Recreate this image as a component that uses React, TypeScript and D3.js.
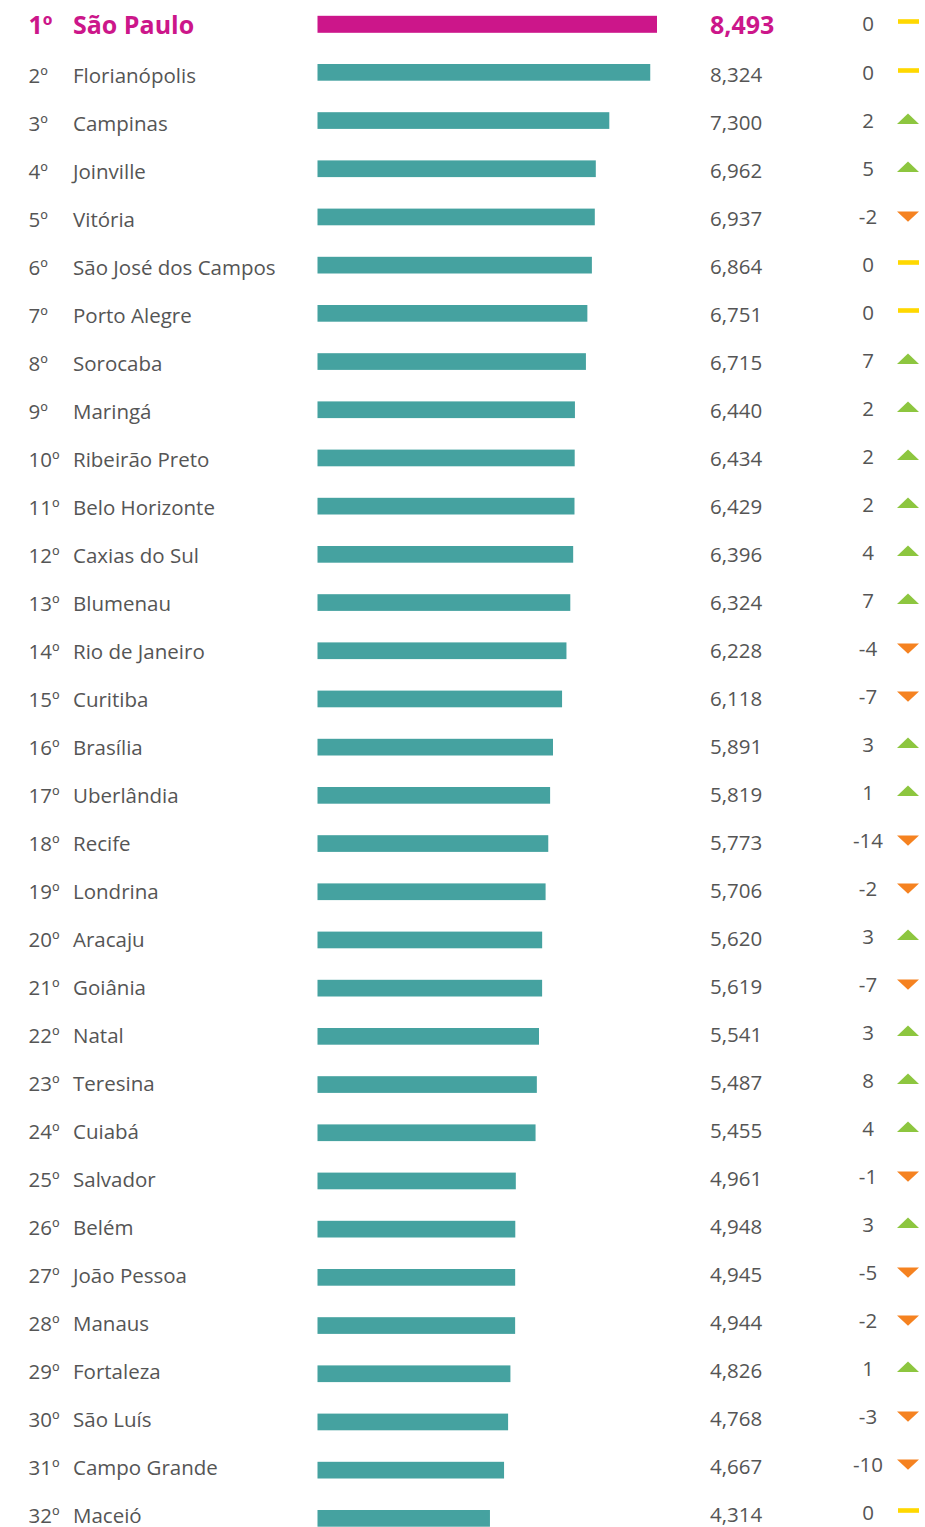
import * as d3 from "d3";

const cities = [
  "São Paulo", "Florianópolis", "Campinas", "Joinville", "Vitória", "São José dos Campos",
  "Porto Alegre", "Sorocaba", "Maringá", "Ribeirão Preto", "Belo Horizonte", "Caxias do Sul",
  "Blumenau", "Rio de Janeiro", "Curitiba", "Brasília", "Uberlândia", "Recife", "Londrina",
  "Aracaju", "Goiânia", "Natal", "Teresina", "Cuiabá", "Salvador", "Belém", "João Pessoa",
  "Manaus", "Fortaleza", "São Luís", "Campo Grande", "Maceió",
];

const scores = [
  8.493, 8.324, 7.3, 6.962, 6.937, 6.864, 6.751, 6.715, 6.44, 6.434, 6.429, 6.396,
  6.324, 6.228, 6.118, 5.891, 5.819, 5.773, 5.706, 5.62, 5.619, 5.541, 5.487, 5.455,
  4.961, 4.948, 4.945, 4.944, 4.826, 4.768, 4.667, 4.314,
];

const changes = [
  0, 0, 2, 5, -2, 0, 0, 7, 2, 2, 2, 4, 7, -4, -7, 3, 1, -14, -2, 3, -7, 3, 8, 4,
  -1, 3, -5, -2, 1, -3, -10, 0,
];

const width = 925;
const height = 1527;
const font = "'Open Sans', sans-serif";
const magenta = "#cc168a";
const teal = "#45a2a0";
const grey = "#555555";

// bars
const y = d3
  .scaleBand<string>()
  .domain(cities)
  .range([15.8, 15.8 + cities.length * 48.2])
  .padding(0);

// text baselines (the labels sit on a slightly tighter grid than the bars)
const yText = d3
  .scalePoint<string>()
  .domain(cities)
  .range([35, 35 + (cities.length - 1) * 48]);

const x = d3.scaleLinear().domain([0, 8.493]).range([317.5, 657]);
const fmt = d3.format(",.3f");

function Marker({ v, base }: { v: number; base: number }) {
  if (v === 0) return <rect x={898} y={base - 14.8} width={21} height={4.6} fill="#ffd800" />;
  if (v > 0)
    return <path d={`M897,${base - 7}L908,${base - 17.5}L919,${base - 7}Z`} fill="#8dc63f" />;
  return <path d={`M897,${base - 15.5}L908,${base - 5.3}L919,${base - 15.5}Z`} fill="#f58220" />;
}

function App() {
  return (
    <svg width={width} height={height} style={{ position: "absolute", left: 0, top: 0 }}>
      <rect width={width} height={height} fill="#fff" />
      {cities.map((c, i) => {
        const top = y(c)!;
        const first = i === 0;
        const base = yText(c)! - (first ? 1 : 0);
        const col = first ? magenta : grey;
        const size = first ? 25 : 20.5;
        const weight = first ? 700 : 400;
        const value = fmt(scores[i]).replace(".", ",");
        return (
          <g key={c} fontFamily={font}>
            <text x={28.5} y={base} fill={col} fontSize={size} fontWeight={weight}>
              {i + 1}º
            </text>
            <text x={73} y={base} fill={col} fontSize={size} fontWeight={weight}>
              {c}
            </text>
            <rect
              x={x(0)}
              y={top}
              width={x(scores[i]) - x(0)}
              height={first ? 17 : 16.7}
              fill={first ? magenta : teal}
            />
            <text x={710} y={base - (first ? 0.5 : 1)} fill={col} fontSize={size} fontWeight={weight}>
              {value}
            </text>
            <text x={868} y={base - 3.5} fill={grey} fontSize={20.5} textAnchor="middle">
              {changes[i]}
            </text>
            <Marker v={changes[i]} base={base} />
          </g>
        );
      })}
    </svg>
  );
}

export default App;
